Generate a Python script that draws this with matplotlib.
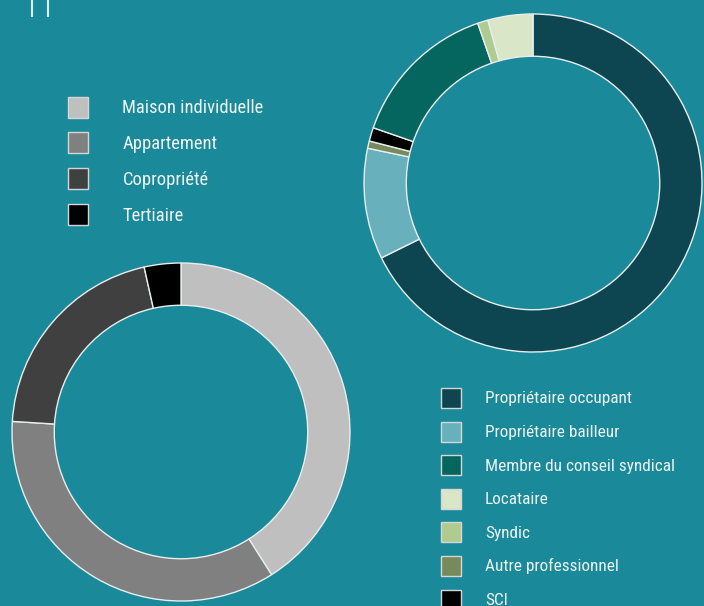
import matplotlib
matplotlib.use("Agg")
import matplotlib.pyplot as plt
from matplotlib import font_manager
from matplotlib.patches import Rectangle
from matplotlib.lines import Line2D

# ---- data ----
type_labels = ["Maison individuelle", "Appartement", "Copropriété", "Tertiaire"]
type_values = [41.0, 35.0, 20.5, 3.5]
type_colors = ["#bfbfbf", "#808080", "#404040", "#000000"]

prof_pie_labels = ["Propriétaire occupant", "Propriétaire bailleur", "Autre professionnel",
                   "SCI", "Membre du conseil syndical", "Syndic", "Locataire"]
prof_pie_values = [67.7, 10.6, 0.7, 1.3, 14.4, 1.0, 4.3]

prof_legend_labels = ["Propriétaire occupant", "Propriétaire bailleur", "Membre du conseil syndical",
                      "Locataire", "Syndic", "Autre professionnel", "SCI"]
prof_colors = {
    "Propriétaire occupant": "#0d4550",
    "Propriétaire bailleur": "#68b0bc",
    "Membre du conseil syndical": "#05665f",
    "Locataire": "#d9e6c8",
    "Syndic": "#afcb8f",
    "Autre professionnel": "#768a5c",
    "SCI": "#000000",
}

BG = "#1a899a"
TXT = "#eef5f5"
names = {f.name for f in font_manager.fontManager.ttflist}
FAMILY = "Roboto Condensed" if "Roboto Condensed" in names else "Roboto"
FS_LEFT = 13.3
FS_RIGHT = 12.4

W, H = 704, 606
fig = plt.figure(figsize=(W / 100, H / 100), dpi=100, facecolor=BG)


def donut_axes(cx, cy, r):
    ax = fig.add_axes([(cx - r) / W, (H - cy - r) / H, 2 * r / W, 2 * r / H])
    ax.set_facecolor("none")
    return ax


# top-right donut
ax1 = donut_axes(533, 183, 169)
ax1.pie(prof_pie_values, colors=[prof_colors[l] for l in prof_pie_labels],
        startangle=90, counterclock=False, radius=1.0,
        wedgeprops=dict(width=0.25, edgecolor="#e8eeee", linewidth=1.0))
ax1.set_xlim(-1, 1)
ax1.set_ylim(-1, 1)
ax1.set_aspect("auto")
ax1.axis("off")

# bottom-left donut
ax2 = donut_axes(181, 432, 169)
ax2.pie(type_values, colors=type_colors, startangle=90, counterclock=False, radius=1.0,
        wedgeprops=dict(width=0.25, edgecolor="#e8eeee", linewidth=1.0))
ax2.set_xlim(-1, 1)
ax2.set_ylim(-1, 1)
ax2.set_aspect("auto")
ax2.axis("off")

# overlay for legends (pixel coords)
ov = fig.add_axes([0, 0, 1, 1])
ov.set_xlim(0, W)
ov.set_ylim(H, 0)
ov.axis("off")
ov.set_facecolor("none")

# legend 1
for i, (lab, col) in enumerate(zip(type_labels, type_colors)):
    yc = 107 + i * 35.8
    ov.add_patch(Rectangle((67.5, yc - 10.5), 20.5, 21, facecolor=col, edgecolor="#d6d6d6", lw=1.0))
    ov.text(122.5, yc + 6.3, lab, color=TXT, fontsize=FS_LEFT, family=FAMILY,
            va="baseline", ha="left")

# legend 2
for i, lab in enumerate(prof_legend_labels):
    yc = 398 + i * 33.6
    ov.add_patch(Rectangle((441, yc - 10), 20, 20, facecolor=prof_colors[lab],
                           edgecolor="#d6d6d6", lw=1.0))
    ov.text(485, yc + 5.5, lab, color=TXT, fontsize=FS_RIGHT, family=FAMILY,
            va="baseline", ha="left")

# stray marks at top-left
for x in (31.5, 48):
    ov.add_line(Line2D([x, x], [0, 16], color="#d8f0f2", lw=1.5))

fig.savefig("out.png", dpi=100, facecolor=BG)
